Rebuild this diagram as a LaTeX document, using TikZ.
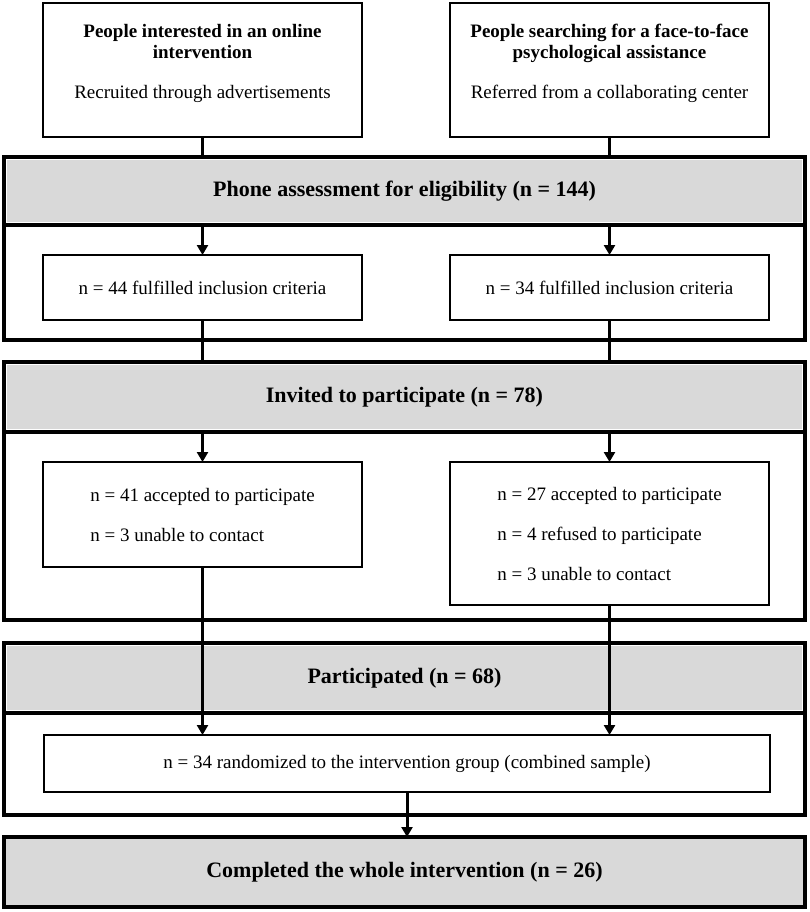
\documentclass[tikz,border=0pt]{standalone}
\usepackage{fontspec}
\setmainfont{Liberation Serif}
\usepackage{tikz}
\usetikzlibrary{arrows.meta}
\definecolor{bandgray}{RGB}{217, 217, 217}

\begin{document}
\begin{tikzpicture}[x = 1pt, y = -1pt, font = \fontsize{19}{21}\selectfont,
	every node/.style = {outer sep = 0pt, inner sep = 0pt},
	source/.style = {draw, line width = 2pt, minimum width = 319pt, minimum height = 134pt, align = center, text depth = 18pt},
	item/.style = {draw, line width = 2pt, minimum width = 319pt, align = left},
	band/.style = {fill = bandgray, draw = white, line width = 6pt, minimum width = 801pt, minimum height = 68pt, font = \fontsize{22}{26}\selectfont\bfseries},
	frame/.style = {draw, line width = 4pt, minimum width = 801pt},
	link/.style = {line width = 3pt},
	flow/.style = {line width = 3pt, -{Triangle[width = 11pt, length = 10pt]}}]
			\useasboundingbox (0,0) rectangle (809,912);
			% recruitment
			\node (online) at (202.5,70) [source] {\textbf{People interested in an online}\\\textbf{intervention}\\[19pt]Recruited through advertisements};
			\node (centre) at (609.5,70) [source] {\textbf{People searching for a face-to-face}\\\textbf{psychological assistance}\\[19pt]Referred from a collaborating center};
			% eligibility
			\node (phoneband) at (404.5,191) [band] {Phone assessment for eligibility (n = 144)};
			\node (phone) at (404.5,248.5) [frame, minimum height = 183pt] {};
			\draw[line width = 4pt] (phoneband.south west) -- (phoneband.south east);
			\node (online44) at (202.5,287.5) [item, minimum height = 65pt] {n = 44 fulfilled inclusion criteria};
			\node (centre34) at (609.5,287.5) [item, minimum height = 65pt] {n = 34 fulfilled inclusion criteria};
			% invitation
			\node (invband) at (404.5,397) [band, minimum height = 70pt] {Invited to participate (n = 78)};
			\node (invited) at (404.5,491) [frame, minimum height = 258pt] {};
			\draw[line width = 4pt] (invband.south west) -- (invband.south east);
			\node (online41) at (202.5,514.5) [item, minimum height = 105pt] {n = 41 accepted to participate\\[19pt]n = 3 unable to contact};
			\node (centre27) at (609.5,533.5) [item, minimum height = 143pt] {n = 27 accepted to participate\\[19pt]n = 4 refused to participate\\[19pt]n = 3 unable to contact};
			% participation
			\node (partband) at (404.5,678) [band, minimum height = 70pt] {Participated (n = 68)};
			\node (participated) at (404.5,729) [frame, minimum height = 172pt] {};
			\draw[line width = 4pt] (partband.south west) -- (partband.south east);
			\node (randomized) at (407,763.5) [item, minimum width = 726pt, minimum height = 57pt] {n = 34 randomized to the intervention group (combined sample)};
			\node (completed) at (404.5,872) [band, draw = black, line width = 4pt, minimum height = 70pt] {Completed the whole intervention (n = 26)};
			% connectors
			\draw[link] (online) -- (online |- phone.north);
			\draw[link] (centre) -- (centre |- phone.north);
			\draw[flow] (online |- phoneband.south) -- (online44);
			\draw[flow] (centre |- phoneband.south) -- (centre34);
			\draw[link] (online44) -- (online44 |- invited.north);
			\draw[link] (centre34) -- (centre34 |- invited.north);
			\draw[flow] (online |- invband.south) -- (online41);
			\draw[flow] (centre |- invband.south) -- (centre27);
			\draw[flow] (online41) -- (online41 |- randomized.north);
			\draw[flow] (centre27) -- (centre27 |- randomized.north);
			\draw[flow] (randomized) -- (randomized |- completed.north);
\end{tikzpicture}
\end{document}
